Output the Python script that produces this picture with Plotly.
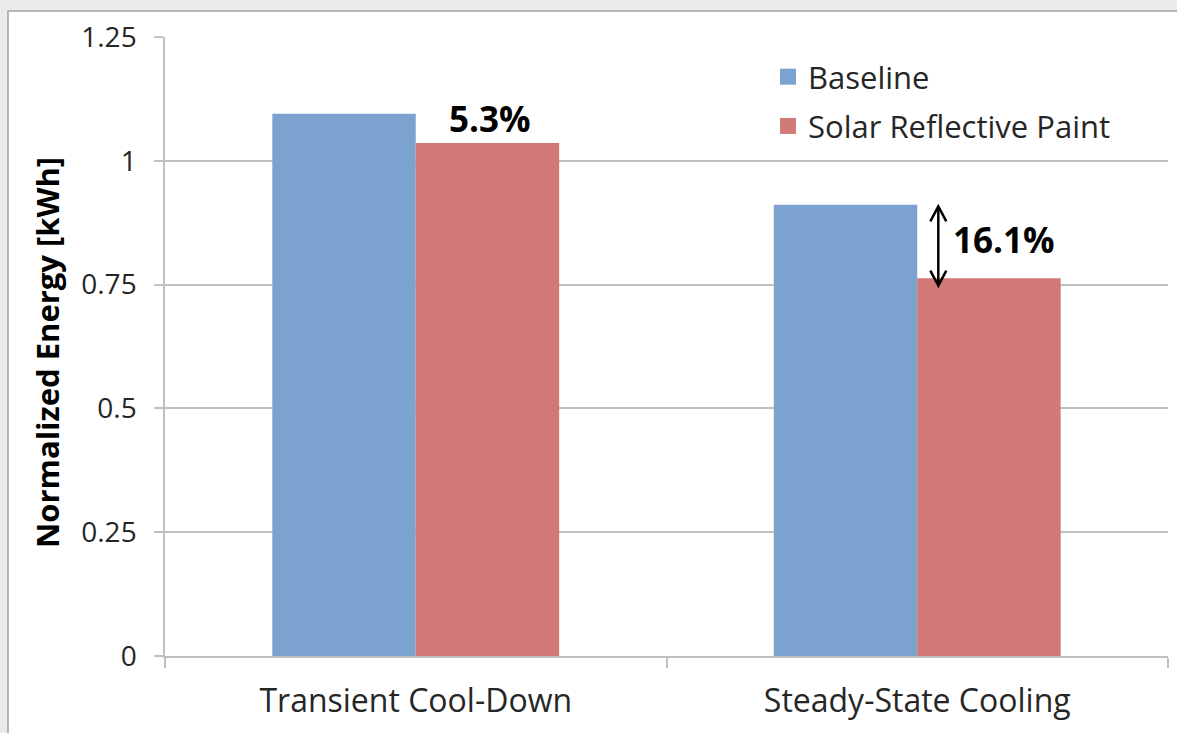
import plotly.graph_objects as go

categories = ["Transient Cool-Down", "Steady-State Cooling"]
baseline = [1.095, 0.911]
reflective = [1.036, 0.763]
series_names = ["Baseline", "Solar Reflective Paint"]
tick_vals = [0, 0.25, 0.5, 0.75, 1, 1.25]
tick_text = ["0", "0.25", "0.5", "0.75", "1", "1.25"]
reduction_labels = ["5.3%", "16.1%"]
y_title = "Normalized Energy [kWh]"

W, H = 1177, 733
ML, MR, MT, MB = 165, 9, 37, 77
PW, PH = W - ML - MR, H - MT - MB

FONT = "Open Sans"
BLUE = "#7ca2cf"
RED = "#d07977"
TXT = "#262626"
GRID = "#c0c0c0"

fig = go.Figure()
fig.add_trace(go.Bar(x=categories, y=baseline, name=series_names[0], showlegend=False,
                     marker=dict(color=BLUE, line=dict(width=0))))
fig.add_trace(go.Bar(x=categories, y=reflective, name=series_names[1], showlegend=False,
                     marker=dict(color=RED, line=dict(width=0))))
# legend entries with larger square swatches
for nm, col, grp in [(series_names[0], BLUE, "a"), (series_names[1], RED, "b")]:
    fig.add_trace(go.Scatter(x=[None], y=[None], mode="markers", name=nm, legendgroup=grp,
                             marker=dict(symbol="square", size=18, color=col, line=dict(width=0)),
                             hoverinfo="skip"))

def px_x(p):
    return (p - ML) / PW

def px_y(p):
    return (H - MB - p) / PH

shapes = [
    dict(type="rect", xref="paper", yref="paper", layer="below",
         x0=px_x(8), x1=px_x(W + 20), y0=px_y(H + 20), y1=px_y(11),
         fillcolor="white", line=dict(color="#a0a0a0", width=1.5)),
]

annotations = []
annotations.append(dict(x=0.14, y=reflective[0], xref="x", yref="y", text="<b>%s</b>" % reduction_labels[0],
                        showarrow=False, yanchor="bottom", yshift=-1, xshift=4,
                        font=dict(family=FONT, size=35, color="black")))
ax = 1.042
shapes.append(dict(type="line", xref="x", yref="y", x0=ax, x1=ax, y0=reflective[1] - 0.015, y1=baseline[1] - 0.003,
                   line=dict(color="black", width=2.5)))
for yv, sgn in [(baseline[1] - 0.003, 1), (reflective[1] - 0.015, -1)]:
    shapes.append(dict(type="path", xref="x", yref="y", xsizemode="pixel", ysizemode="pixel",
                       xanchor=ax, yanchor=yv,
                       path="M -8,%d L 0,0 L 8,%d" % (-15 * sgn, -15 * sgn),
                       line=dict(color="black", width=2.5)))
annotations.append(dict(x=ax, y=(baseline[1] + reflective[1]) / 2, xref="x", yref="y",
                        text="<b>%s</b>" % reduction_labels[1], showarrow=False,
                        xanchor="left", xshift=13, yshift=2,
                        font=dict(family=FONT, size=35, color="black")))
annotations.append(dict(x=px_x(47), y=px_y(353), xref="paper", yref="paper",
                        text="<b>%s</b>" % y_title, showarrow=False, textangle=-90,
                        xanchor="center", yanchor="middle",
                        font=dict(family=FONT, size=31, color="black")))

fig.update_layout(
    width=W, height=H,
    margin=dict(l=ML, r=MR, t=MT, b=MB, pad=0),
    paper_bgcolor="#ebebeb",
    plot_bgcolor="rgba(0,0,0,0)",
    barmode="group",
    bargap=0.428,
    bargroupgap=0,
    font=dict(family=FONT, size=31, color=TXT),
    shapes=shapes,
    annotations=annotations,
    legend=dict(x=px_x(768), y=px_y(50), xanchor="left", yanchor="top",
                bgcolor="rgba(0,0,0,0)", font=dict(family=FONT, size=31, color=TXT),
                tracegroupgap=6),
    xaxis=dict(type="category", showline=True, linecolor=GRID, linewidth=1.5,
               ticks="outside", tickson="boundaries", ticklen=10, tickcolor=GRID, tickwidth=1.5,
               showgrid=False, tickfont=dict(family=FONT, size=32, color=TXT),
               ticklabelstandoff=16, categoryorder="array", categoryarray=categories,
               range=[-0.5, 1.5]),
    yaxis=dict(range=[0, 1.25], tickvals=tick_vals, ticktext=tick_text,
               showline=True, linecolor=GRID, linewidth=1.5,
               ticks="outside", ticklen=9, tickcolor=GRID, tickwidth=1.5,
               showgrid=True, gridcolor=GRID, gridwidth=1.5, zeroline=False,
               ticklabelstandoff=12,
               tickfont=dict(family=FONT, size=28, color=TXT)),
)

fig.write_html("out.html", config={"displayModeBar": False},
               post_script="document.body.style.margin='0';document.body.style.overflow='hidden';")
